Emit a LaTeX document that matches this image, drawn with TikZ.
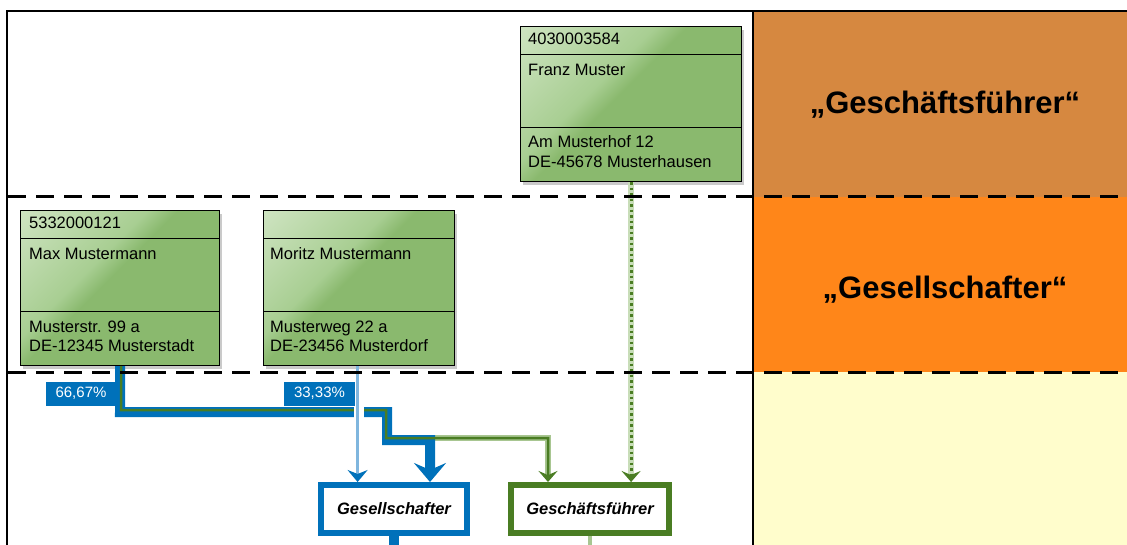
\documentclass[tikz,border=0pt]{standalone}
\usepackage{fontspec}
\setmainfont{Liberation Sans}
\usetikzlibrary{arrows.meta,shadows,calc}
\definecolor{boxgreen}{RGB}{138,185,110}
\definecolor{glosslight}{RGB}{228,240,220}
\definecolor{glossmid}{RGB}{168,206,146}
\definecolor{bblue}{RGB}{0,113,186}
\definecolor{lblue}{RGB}{128,182,222}
\definecolor{dgreen}{RGB}{74,125,35}
\definecolor{pgreen}{RGB}{168,198,145}
\definecolor{dotbg}{RGB}{200,221,184}
\definecolor{bandA}{RGB}{214,136,64}
\definecolor{bandB}{RGB}{255,134,25}
\definecolor{bandC}{RGB}{255,253,204}
\pgfdeclarehorizontalshading{gloss}{100bp}{color(0bp)=(glosslight); color(40bp)=(glossmid); color(46bp)=(boxgreen); color(100bp)=(boxgreen)}
\begin{document}
\begin{tikzpicture}[x=1pt,y=-1pt,
  gbox/.style={draw=black, line width=1.2pt, shade, shading=gloss, shading angle=-45,
    drop shadow={shadow xshift=2.5pt, shadow yshift=-3pt, fill=black!35, opacity=0.6},
    anchor=north west, inner sep=0pt, minimum height=155pt},
  divider/.style={draw=black, line width=1pt},
  gtext/.style={anchor=base west, inner sep=0pt, font=\fontsize{16.5}{19}\selectfont},
  pct/.style={fill=bblue, text=white, inner sep=0pt, minimum height=24pt, font=\fontsize{15}{17}\selectfont},
  bandtext/.style={font=\bfseries\fontsize{31}{35}\selectfont, inner sep=0pt},
  rolebox/.style={fill=white, line width=6pt, minimum height=48pt, inner sep=0pt, font=\bfseries\itshape\fontsize{16.5}{19}\selectfont},
  bthick/.style={draw=bblue, line width=10pt},
  gthin/.style={draw=dgreen, line width=2.5pt},
  ghalo/.style={draw=pgreen, line width=6.5pt},
  lane/.style={draw=black, line width=3pt, dash pattern=on 18pt off 10pt},
  frame/.style={draw=black, line width=2pt}
]
\useasboundingbox (0,0) rectangle (1127,545);
% right column bands
\fill[bandA] (753,11) rectangle (1127,197);
\fill[bandB] (753,197) rectangle (1127,372);
\fill[bandC] (753,372) rectangle (1127,545);
\node[bandtext] (lgf) at (945,105) {„Geschäftsführer“};
\node[bandtext] (lgs) at (945,290) {„Gesellschafter“};
% frame
\draw[frame] (7,545) -- (7,11) -- (1127,11);
\draw[frame] (753,11) -- (753,545);
% person boxes
\node[gbox, minimum width=221pt] (franz) at (520,26) {};
\node[gbox, minimum width=199pt] (max) at (20,210) {};
\node[gbox, minimum width=191pt] (moritz) at (263,210) {};
\foreach \b in {franz,max,moritz}{
  \draw[divider] ([yshift=-29pt]\b.north west) -- ([yshift=-29pt]\b.north east);
  \draw[divider] ([yshift=-102pt]\b.north west) -- ([yshift=-102pt]\b.north east);
}
\node[gtext] (fid) at ([xshift=8pt,yshift=-19pt]franz.north west) {4030003584};
\node[gtext] (fname) at ([xshift=8pt,yshift=-50pt]franz.north west) {Franz Muster};
\node[gtext] (fa1) at ([xshift=8pt,yshift=-122pt]franz.north west) {Am Musterhof 12};
\node[gtext] (fa2) at ([xshift=8pt,yshift=-142pt]franz.north west) {DE-45678 Musterhausen};
\node[gtext] (mid) at ([xshift=9pt,yshift=-19pt]max.north west) {5332000121};
\node[gtext] (mname) at ([xshift=9pt,yshift=-50pt]max.north west) {Max Mustermann};
\node[gtext] (ma1) at ([xshift=9pt,yshift=-122pt]max.north west) {Musterstr. 99 a};
\node[gtext] (ma2) at ([xshift=9pt,yshift=-142pt]max.north west) {DE-12345 Musterstadt};
\node[gtext] (oname) at ([xshift=7pt,yshift=-50pt]moritz.north west) {Moritz Mustermann};
\node[gtext] (oa1) at ([xshift=7pt,yshift=-122pt]moritz.north west) {Musterweg 22 a};
\node[gtext] (oa2) at ([xshift=7pt,yshift=-142pt]moritz.north west) {DE-23456 Musterdorf};
% role boxes
\node[rolebox, draw=bblue, minimum width=146pt] (gs) at (394,509) {Gesellschafter};
\node[rolebox, draw=dgreen, minimum width=158pt] (gf) at (590,509) {Geschäftsführer};
% percentage labels
\node[pct, minimum width=70pt] (p1) at (81,393.5) {66,67\%};
\node[pct, minimum width=71pt] (p2) at (319.5,393.5) {33,33\%};
% connector coordinates
\coordinate (b1) at (120,412);
\coordinate (b2) at (387,412);
\coordinate (b3) at (387,440);
\coordinate (b4) at (430,440);
\coordinate (g1) at (121,410);
\coordinate (g2) at (386,410);
\coordinate (g3) at (386,438);
\coordinate (g4) at (548,438);
\coordinate (bot) at (0,546);
% green halo (Max -> Geschaeftsfuehrer)
\draw[ghalo, shorten >=8pt] (g2) -- (g3) -- (g4) -- (g4 |- gf.north);
% blue thick (Max -> Gesellschafter)
\draw[bthick, -{Stealth[length=19pt,width=32pt,inset=7pt]}] (max.south) -- (b1) -- (b2) -- (b3) -- (b4) -- (b4 |- gs.north);
% green thin on top
\draw[gthin, -{Stealth[length=11pt,width=19pt,inset=4pt]}] ([xshift=1pt]max.south) -- (g1) -- (g2) -- (g3) -- (g4) -- (g4 |- gf.north);
% line jump gap
\fill[white] (354,406) rectangle (364,418);
% Moritz -> Gesellschafter
\draw[draw=lblue, line width=3.5pt, -{Stealth[length=12pt,width=20pt,inset=4pt,color=bblue]}] ([xshift=-1.5pt]moritz.south) -- ([xshift=-1.5pt]moritz.south |- gs.north);
% Franz -> Geschaeftsfuehrer (dotted)
\draw[draw=dotbg, line width=6pt, shorten >=8pt] (franz.south) -- (franz.south |- gf.north);
\draw[draw=dgreen, line width=3pt, dash pattern=on 2.5pt off 3pt, -{Stealth[length=11pt,width=19pt,inset=4pt]}] (franz.south) -- (franz.south |- gf.north);
% lines leaving role boxes
\draw[bthick] (gs.south) -- (gs.south |- bot);
\draw[draw=pgreen, line width=4pt] (gf.south) -- (gf.south |- bot);
% lane separators
\draw[lane] (8,197) -- (1127,197);
\draw[lane] (8,372) -- (1127,372);
\end{tikzpicture}
\end{document}
